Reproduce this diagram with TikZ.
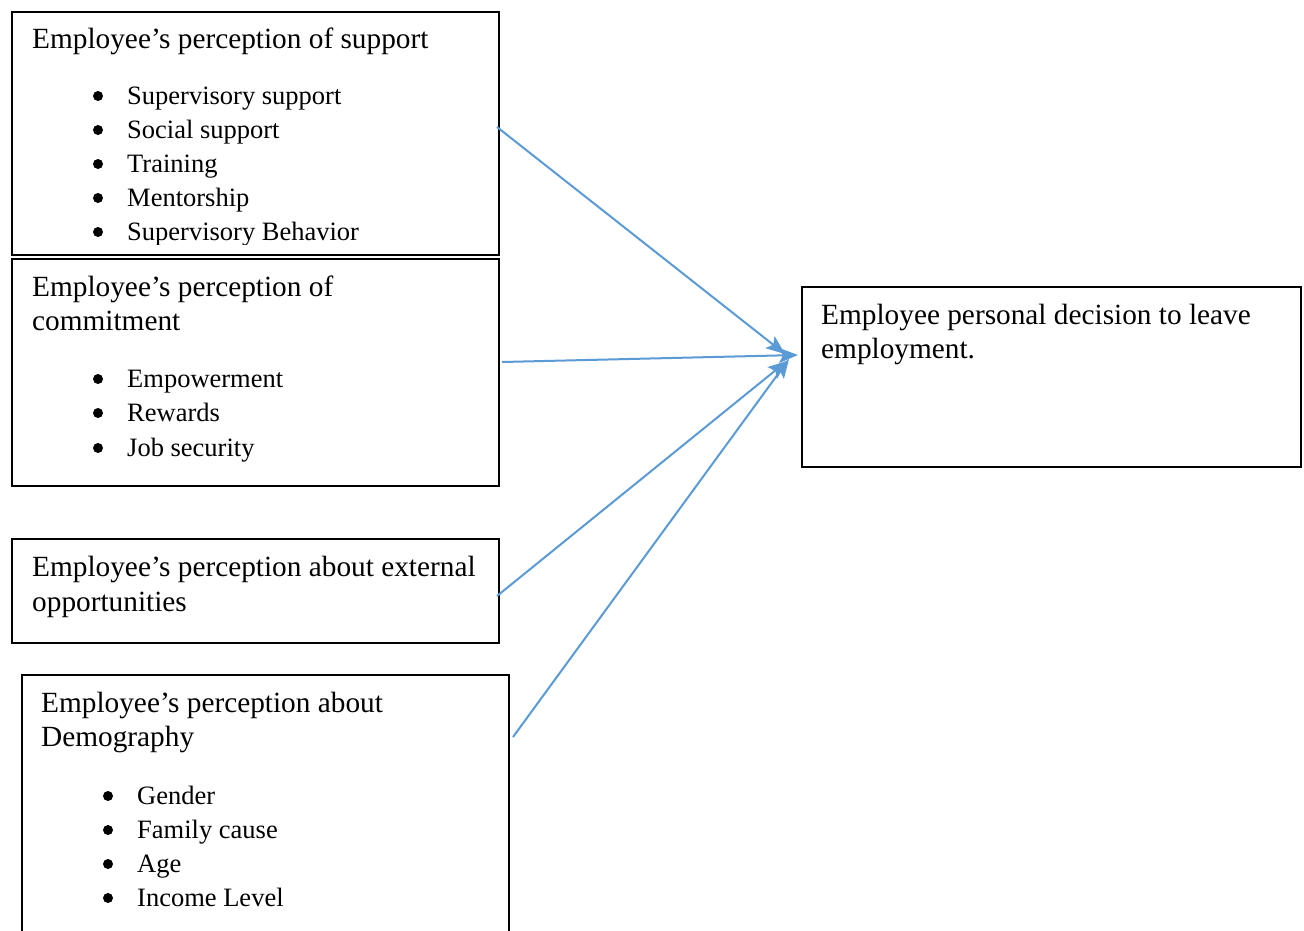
\documentclass[tikz,border=0pt]{standalone}
\usepackage{fontspec}
\setmainfont{Liberation Serif}
\usetikzlibrary{arrows.meta}
\definecolor{arrowblue}{HTML}{5B9BD5}
\tikzset{
  box/.style={draw=black, line width=2pt, anchor=north west, inner sep=0pt},
  txt/.style={anchor=base west, inner sep=0pt, font=\fontsize{26.5}{34}\selectfont},
  ttl/.style={anchor=base west, inner sep=0pt, font=\fontsize{29.3}{35}\selectfont},
  bul/.style={fill=black},
  conn/.style={draw=arrowblue, line width=2pt, -{Stealth[length=19pt,width=15pt,inset=4pt]}}
}
\begin{document}
\begin{tikzpicture}[x=1pt,y=-1pt]
\useasboundingbox (0,0) rectangle (1304,930);
\clip (0,0) rectangle (1304,930);
\fill[white] (0,0) rectangle (1304,930);
% boxes
\node[box, minimum width=487pt, minimum height=243pt] (b1) at (11,11) {};
\node[box, minimum width=487pt, minimum height=227pt] (b2) at (11,258) {};
\node[box, minimum width=487pt, minimum height=104pt] (b3) at (11,538) {};
\node[box, minimum width=487pt, minimum height=280pt] (b4) at (21,674) {};
\node[box, minimum width=499pt, minimum height=180pt] (r) at (801,286) {};
% box 1 text
\node[ttl] (t1) at (32,48) {Employee’s perception of support};
\begin{scope}
\clip (11,11) rectangle (498,244.5);
\foreach \y/\s [count=\i] in {104/Supervisory support,138/Social support,172/Training,206/Mentorship,240/Supervisory Behavior}{
  \fill[bul] (98,\y-8) circle (5);
  \node[txt] (s\i) at (127,\y) {\s};
}
\end{scope}
% box 2 text
\node[ttl] (c0) at (32,296) {Employee’s perception of};
\node[ttl] (c00) at (32,330) {commitment};
\foreach \y/\s [count=\i] in {387/Empowerment,421/Rewards,456/Job security}{
  \fill[bul] (98,\y-8) circle (5);
  \node[txt] (c\i) at (127,\y) {\s};
}
% box 3 text
\node[ttl] (e1) at (32,576) {Employee’s perception about external};
\node[ttl] (e2) at (32,611) {opportunities};
% box 4 text
\node[ttl] (d0) at (41,712) {Employee’s perception about};
\node[ttl] (d00) at (41,746) {Demography};
\foreach \y/\s [count=\i] in {804/Gender,838/Family cause,872/Age,906/Income Level}{
  \fill[bul] (108,\y-8) circle (5);
  \node[txt] (d\i) at (137,\y) {\s};
}
% right box text
\node[ttl] (r1) at (821,324) {Employee personal decision to leave};
\node[ttl] (r2) at (821,358) {employment.};
% connector endpoints
\coordinate (a1) at (497,127);
\coordinate (a2) at (502,362);
\coordinate (a3) at (497,596);
\coordinate (a4) at (513,737);
\coordinate (e1t) at (785,354);
\coordinate (e2t) at (798,355);
\coordinate (e3t) at (787,361);
\coordinate (e4t) at (789,359);
\draw[conn] (a1) -- (e1t);
\draw[conn] (a2) -- (e2t);
\draw[conn] (a3) -- (e3t);
\draw[conn] (a4) -- (e4t);
\end{tikzpicture}
\end{document}
